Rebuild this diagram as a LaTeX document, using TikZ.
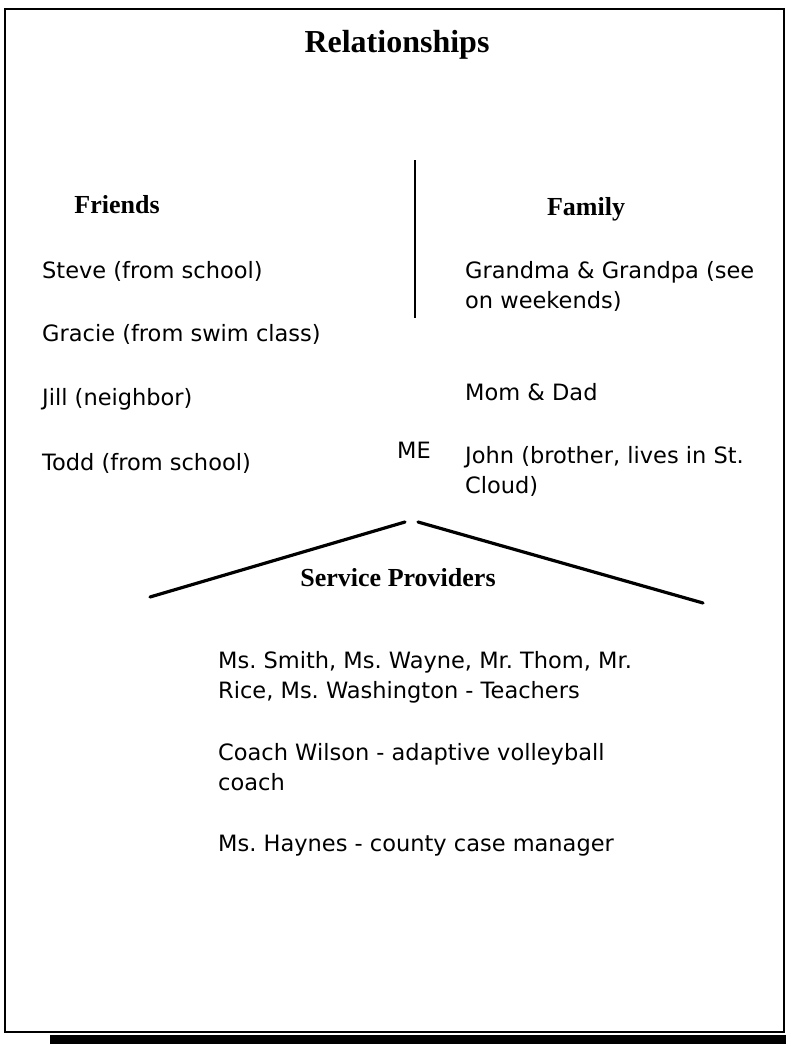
\documentclass[tikz,border=0pt]{standalone}
\usepackage{fontspec}
\setmainfont{Liberation Serif}
\newfontfamily\hand{DejaVu Sans}
\frenchspacing
\begin{document}
\begin{tikzpicture}[x=1pt,y=-1pt,
  title/.style={font=\fontsize{32}{36}\selectfont\bfseries, inner sep=0pt, anchor=base},
  head/.style={font=\fontsize{26}{30}\selectfont\bfseries, inner sep=0pt, anchor=base},
  item/.style={font=\hand\fontsize{22.5}{29.5}\selectfont, inner sep=0pt, anchor=base west, align=left},
  rule/.style={line width=3.2pt, line cap=round},
  divider/.style={line width=2.4pt}]
\useasboundingbox (0,0) rectangle (786,1044);
\fill[white] (0,0) rectangle (786,1044);
\draw[line width=2.6pt] (5,9) rectangle (784,1032);
\fill[black] (50,1035) rectangle (786,1044);

\node[title] (t) at (397,52) {Relationships};

\coordinate (vtop) at (415,160);
\coordinate (vbot) at (415,318);
\draw[divider] (vtop) -- (vbot);

\node[head] (friends) at (117,213) {Friends};
\node[head] (family) at (586,215) {Family};

\node[item] (steve) at (42,278) {Steve (from school)};
\node[item] (gracie) at (42,341) {Gracie (from swim class)};
\node[item] (jill) at (42,405) {Jill (neighbor)};
\node[item] (todd) at (42,470) {Todd (from school)};

\node[item] (grand) at (465,308) {Grandma \& Grandpa (see\\on weekends)};
\node[item] (mom) at (465,400) {Mom \& Dad};
\node[item] (john) at (465,493) {John (brother, lives in St.\\Cloud)};

\node[item] (me) at (397,458) {ME};

\coordinate (apexL) at (405,522);
\coordinate (footL) at (150,597);
\coordinate (apexR) at (418,522);
\coordinate (footR) at (703,603);
\draw[rule] (apexL) -- (footL);
\draw[rule] (apexR) -- (footR);

\node[head] (sp) at (398,586) {Service Providers};

\node[item] (teachers) at (218,698) {Ms. Smith, Ms. Wayne, Mr. Thom, Mr.\\Rice, Ms. Washington - Teachers};
\node[item] (coach) at (218,790) {Coach Wilson - adaptive volleyball\\coach};
\node[item] (haynes) at (218,851) {Ms. Haynes - county case manager};
\end{tikzpicture}
\end{document}
